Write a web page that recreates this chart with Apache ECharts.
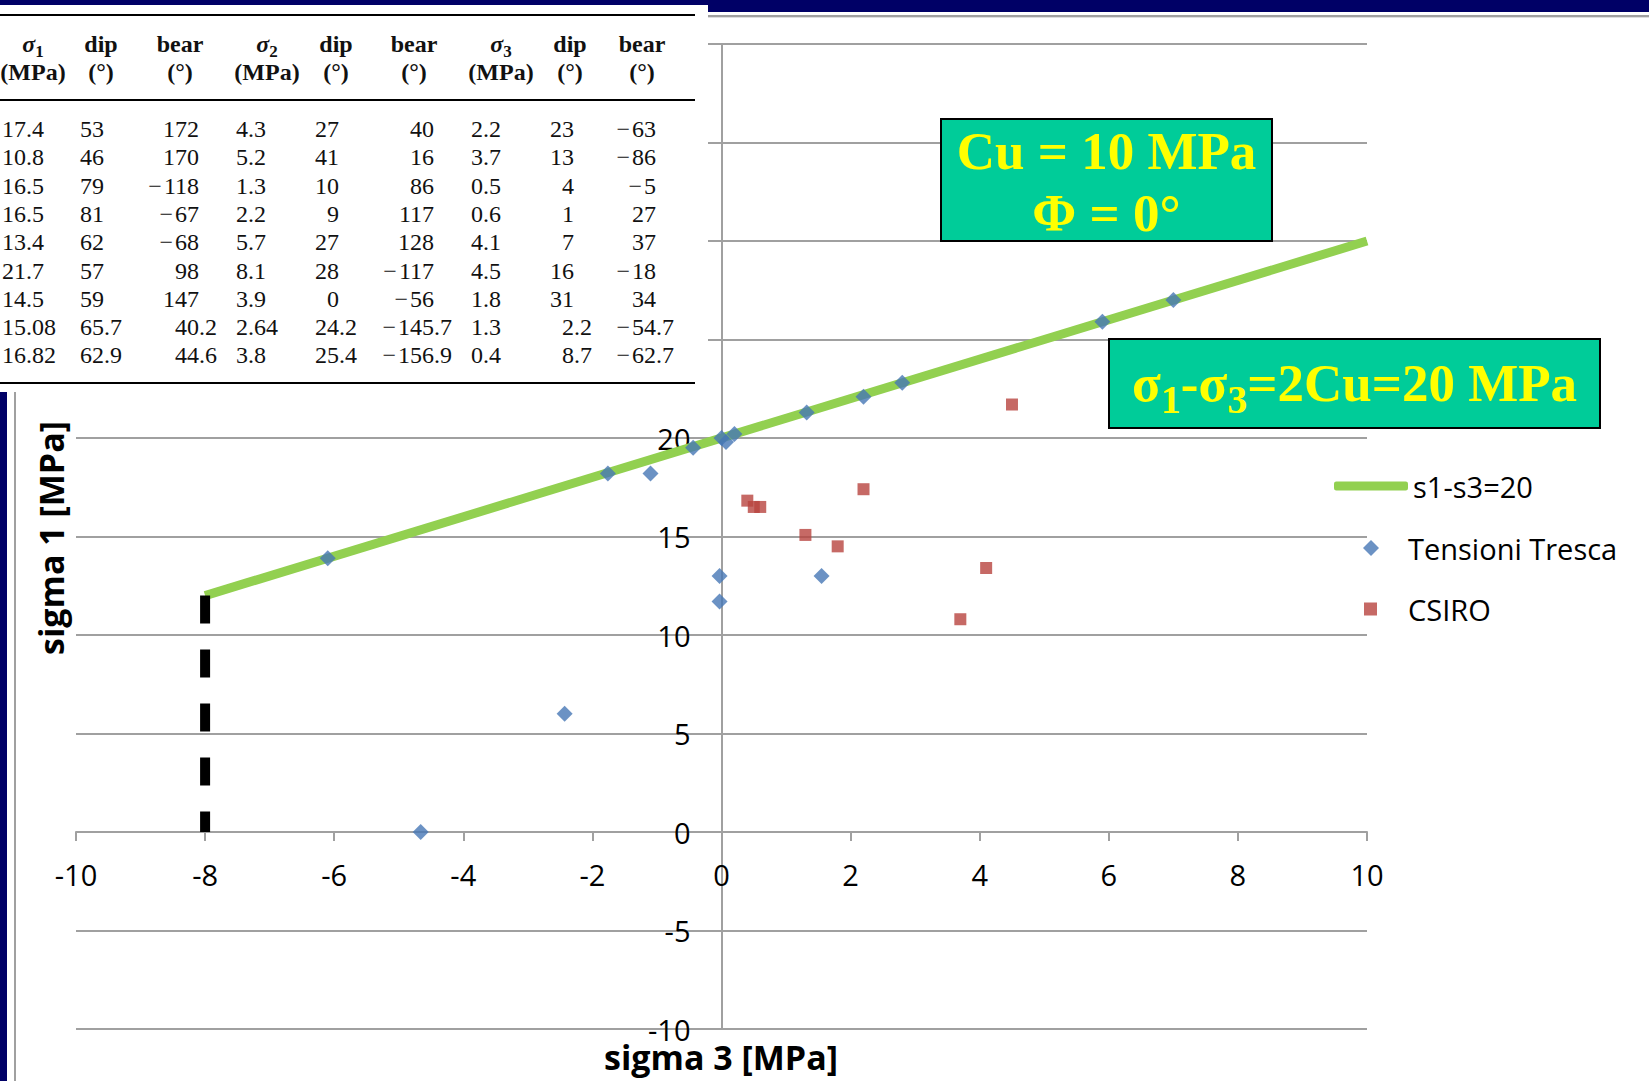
<!DOCTYPE html>
<html>
<head>
<meta charset="utf-8">
<script src="https://cdn.jsdelivr.net/npm/echarts@6/dist/echarts.min.js"></script>
<style>
html,body{margin:0;padding:0;background:#fff;}
#wrap{position:relative;width:1649px;height:1081px;overflow:hidden;background:#fff;}
#chart{position:absolute;left:0;top:0;width:1649px;height:1081px;}
#tbl{position:absolute;left:0;top:0;width:708px;height:388px;background:#fff;font-family:"Liberation Serif","Times New Roman",serif;color:#111;}
.cell{position:absolute;height:28px;line-height:28px;font-size:24px;white-space:nowrap;}
.hd{font-weight:bold;}
.hd sub{font-size:17px;line-height:0;vertical-align:-5px;}
.rule{position:absolute;left:0;width:695px;height:2px;background:#000;}
.bar{position:absolute;}
.box{position:absolute;background:#00CC99;border:2px solid #000;box-sizing:border-box;color:#FFFF00;font-family:"Liberation Serif","Times New Roman",serif;font-weight:bold;text-align:center;white-space:nowrap;}
.box sub{font-size:40px;line-height:0;vertical-align:-12px;}
</style>
</head>
<body>
<div id="wrap">
  <div id="chart"></div>
  <div id="tbl"></div>
  <div class="bar" style="left:0;top:0;width:708px;height:5px;background:#000066;"></div>
  <div class="bar" style="left:708px;top:0;width:941px;height:12px;background:#000066;"></div>
  <div class="bar" style="left:708px;top:15px;width:941px;height:2px;background:#a0a0a0;"></div>
  <div class="bar" style="left:708px;top:17px;width:941px;height:1px;background:#dedede;"></div>
  <div class="bar" style="left:0;top:392px;width:7px;height:689px;background:#000066;"></div>
  <div class="bar" style="left:14px;top:392px;width:2px;height:689px;background:#a0a0a0;"></div>
  <div class="box" id="box1" style="left:940px;top:118px;width:333px;height:124px;font-size:53px;line-height:62px;"></div>
  <div class="box" id="box2" style="left:1108px;top:338px;width:493px;height:91px;font-size:53px;line-height:87px;"></div>
</div>
<script>
// ---- table data (CSIRO measurements) ----
const sigma1 = [17.4, 10.8, 16.5, 16.5, 13.4, 21.7, 14.5, 15.08, 16.82];
const dip1   = [53, 46, 79, 81, 62, 57, 59, 65.7, 62.9];
const bear1  = [172, 170, -118, -67, -68, 98, 147, 40.2, 44.6];
const sigma2 = [4.3, 5.2, 1.3, 2.2, 5.7, 8.1, 3.9, 2.64, 3.8];
const dip2   = [27, 41, 10, 9, 27, 28, 0, 24.2, 25.4];
const bear2  = [40, 16, 86, 117, 128, -117, -56, -145.7, -156.9];
const sigma3 = [2.2, 3.7, 0.5, 0.6, 4.1, 4.5, 1.8, 1.3, 0.4];
const dip3   = [23, 13, 4, 1, 7, 16, 31, 2.2, 8.7];
const bear3  = [-63, -86, -5, 27, 37, -18, 34, -54.7, -62.7];
const headerTop   = ['<i>σ</i><sub>1</sub>', 'dip', 'bear', '<i>σ</i><sub>2</sub>', 'dip', 'bear', '<i>σ</i><sub>3</sub>', 'dip', 'bear'];
const headerUnits = ['(MPa)', '(°)', '(°)', '(MPa)', '(°)', '(°)', '(MPa)', '(°)', '(°)'];

// ---- chart data ----
const trescaS3 = [-6.1, -1.76, -1.1, -0.44, 0.0, 0.07, 0.2, 1.32, 2.2, 2.8, 5.9, 7.0, -0.03, -0.03, 1.55, -2.43, -4.66];
const trescaS1 = [13.9, 18.2, 18.2, 19.5, 20.0, 19.8, 20.2, 21.3, 22.1, 22.8, 25.9, 27.0, 13.0, 11.7, 13.0, 6.0, 0.0];
const limitS3 = [-8, 10];
const limitS1 = [12, 30];
const wallS3 = [-8, -8];
const wallS1 = [12, 0];
const xTicks = { min: -10, max: 10, step: 2 };
const yTicks = { min: -10, max: 40, step: 5 };
const seriesNames = ['s1-s3=20', 'Tensioni Tresca', 'CSIRO'];

// ---- build table ----
const tbl = document.getElementById('tbl');
function fmt(v) { return String(v).replace('-', '\u2212\u200a'); }
function addCell(html, cls, style) {
  const d = document.createElement('div');
  d.className = 'cell ' + (cls || '');
  d.innerHTML = html;
  Object.assign(d.style, style);
  tbl.appendChild(d);
}
const hdCenters = [33, 101, 180, 267, 336, 414, 501, 570, 642];
headerTop.forEach((h, i) => addCell(h, 'hd', { left: (hdCenters[i] - 60) + 'px', width: '120px', textAlign: 'center', top: (44 - 14) + 'px' }));
headerUnits.forEach((h, i) => addCell(h, 'hd', { left: (hdCenters[i] - 60) + 'px', width: '120px', textAlign: 'center', top: (72 - 14) + 'px' }));
const cols = [
  { d: sigma1, mode: 'left', x: 2 },
  { d: dip1, mode: 'left', x: 80 },
  { d: bear1, mode: 'dec', x: 199 },
  { d: sigma2, mode: 'left', x: 236 },
  { d: dip2, mode: 'dec', x: 339 },
  { d: bear2, mode: 'dec', x: 434 },
  { d: sigma3, mode: 'left', x: 471 },
  { d: dip3, mode: 'dec', x: 574 },
  { d: bear3, mode: 'dec', x: 656 }
];
cols.forEach(c => {
  c.d.forEach((v, r) => {
    const top = (129 + r * 28.3 - 14) + 'px';
    const s = fmt(v);
    if (c.mode === 'left') {
      addCell(s, '', { left: c.x + 'px', top: top });
    } else {
      const p = s.indexOf('.');
      const ip = p < 0 ? s : s.slice(0, p);
      const fp = p < 0 ? '' : s.slice(p);
      addCell(ip, '', { left: (c.x - 150) + 'px', width: '150px', textAlign: 'right', top: top });
      if (fp) addCell(fp, '', { left: c.x + 'px', top: top });
    }
  });
});
[14, 99, 382].forEach(y => {
  const r = document.createElement('div');
  r.className = 'rule';
  r.style.top = y + 'px';
  tbl.appendChild(r);
});

// ---- annotation boxes ----
document.getElementById('box1').innerHTML = 'Cu = 10 MPa<br>Φ = 0°';
document.getElementById('box2').innerHTML = 'σ<sub>1</sub>-σ<sub>3</sub>=2Cu=20 MPa';

// ---- chart ----
const chart = echarts.init(document.getElementById('chart'), null, { renderer: 'svg' });
const gray = '#a0a0a0';
const labelFont = { fontSize: 29, fontFamily: 'Open Sans', color: '#000' };
const G = { left: 76, right: 282, top: 44, bottom: 52, W: 1649, H: 1081 };
// axis crossing at zero: shift each axis from its grid edge to the zero of the other axis
const gridW = G.W - G.left - G.right, gridH = G.H - G.top - G.bottom;
const xAxisShift = gridH * (0 - yTicks.min) / (yTicks.max - yTicks.min);
const yAxisShift = gridW * (0 - xTicks.min) / (xTicks.max - xTicks.min);
const legendText = { fontSize: 29, fontFamily: 'Open Sans', color: '#000', lineHeight: 30 };
chart.setOption({
  animation: false,
  grid: { left: G.left, right: G.right, top: G.top, bottom: G.bottom },
  xAxis: {
    type: 'value', min: xTicks.min, max: xTicks.max, interval: xTicks.step,
    position: 'bottom', offset: -xAxisShift,
    axisLine: { onZero: false, lineStyle: { color: gray, width: 2 } },
    axisTick: { show: true, length: 9, lineStyle: { color: gray, width: 2 } },
    axisLabel: Object.assign({ margin: 28 }, labelFont),
    splitLine: { show: false }
  },
  yAxis: {
    type: 'value', min: yTicks.min, max: yTicks.max, interval: yTicks.step,
    position: 'left', offset: -yAxisShift,
    axisLine: { show: true, onZero: false, lineStyle: { color: gray, width: 2 } },
    axisTick: { show: false },
    axisLabel: Object.assign({ margin: 31, lineHeight: 22, formatter: v => (v > 20 ? '' : String(v)) }, labelFont),
    splitLine: { show: true, lineStyle: { color: gray, width: 2 } }
  },
  legend: [
    {
      data: [{ name: seriesNames[0], icon: 'roundRect' }],
      left: 1329, top: 466, itemWidth: 74, itemHeight: 9,
      itemStyle: { color: '#92D050' },
      textStyle: legendText
    },
    {
      data: [{ name: seriesNames[1], icon: 'diamond' }],
      left: 1358, top: 528, itemWidth: 16, itemHeight: 16,
      textStyle: Object.assign({ padding: [0, 0, 0, 24] }, legendText)
    },
    {
      data: [{ name: seriesNames[2], icon: 'rect' }],
      left: 1359, top: 589, itemWidth: 13, itemHeight: 13,
      textStyle: Object.assign({ padding: [0, 0, 0, 26] }, legendText)
    }
  ],
  graphic: [
    { type: 'text', x: 721, y: 1057, style: { text: 'sigma 3 [MPa]', font: 'bold 34px "Open Sans"', lineHeight: 24, fill: '#000', textAlign: 'center', textVerticalAlign: 'middle' } },
    { type: 'text', x: 51, y: 538, rotation: Math.PI / 2, style: { text: 'sigma 1 [MPa]', font: 'bold 34px "Open Sans"', fill: '#000', textAlign: 'center', textVerticalAlign: 'middle' } }
  ],
  series: [
    {
      name: seriesNames[0], type: 'line', symbol: 'none', silent: true, z: 2,
      data: limitS3.map((x, i) => [x, limitS1[i]]),
      lineStyle: { color: '#92D050', width: 9 }, itemStyle: { color: '#92D050' }
    },
    {
      name: 'limite', type: 'line', symbol: 'none', silent: true, z: 3,
      data: wallS3.map((x, i) => [x, wallS1[i]]),
      lineStyle: { color: '#000', width: 10, type: [28, 26], cap: 'butt' }
    },
    {
      name: seriesNames[1], type: 'scatter', symbol: 'diamond', symbolSize: 16, z: 4,
      data: trescaS3.map((x, i) => [x, trescaS1[i]]),
      itemStyle: { color: '#4677B5' }
    },
    {
      name: seriesNames[2], type: 'scatter', symbol: 'rect', symbolSize: 12, z: 5,
      data: sigma3.map((x, i) => [x, sigma1[i]]),
      itemStyle: { color: '#B8433F' }
    }
  ]
});
</script>
</body>
</html>
